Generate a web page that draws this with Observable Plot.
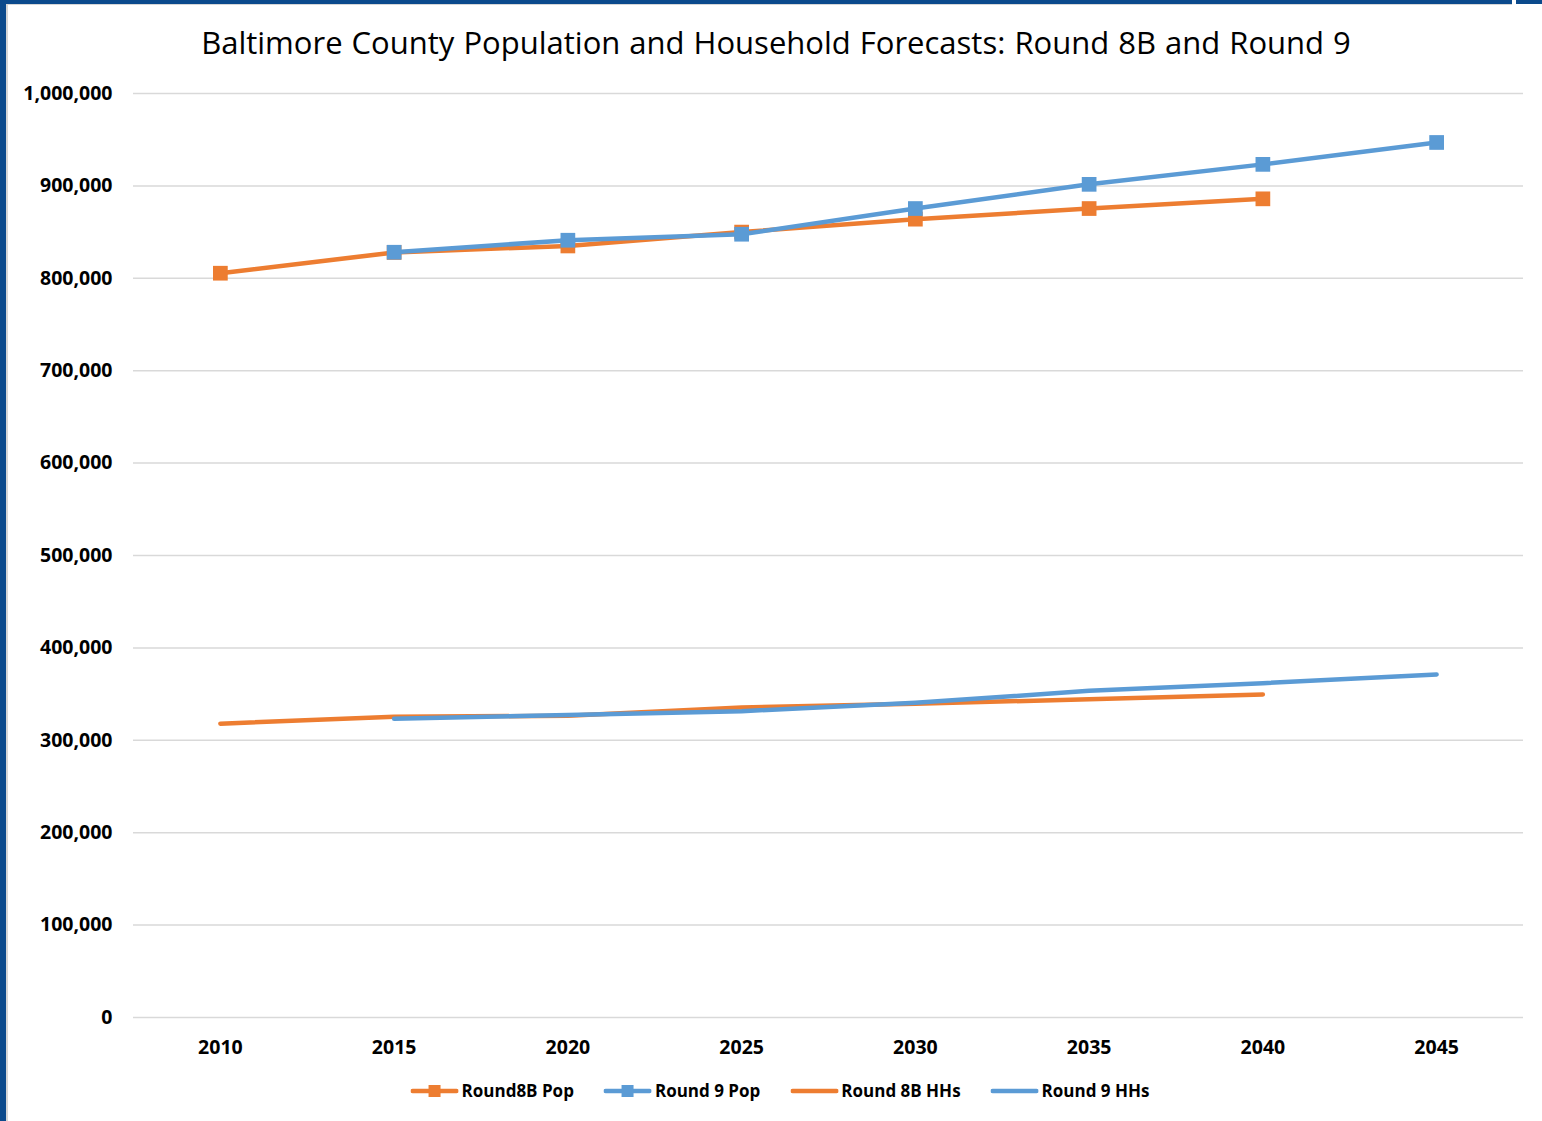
<!DOCTYPE html>
<html><head><meta charset="utf-8">
<script src="https://cdn.jsdelivr.net/npm/d3@7"></script>
<script src="https://cdn.jsdelivr.net/npm/@observablehq/plot@0.6"></script>
<style>
body{margin:0;background:#fff;}
#wrap{position:relative;width:1542px;height:1121px;overflow:hidden;font-family:"Open Sans",sans-serif;background:#fff;}
#title{position:absolute;left:0;top:0;width:1542px;height:80px;}
#title span{position:absolute;left:776px;top:22px;transform:translateX(-50%);white-space:nowrap;font-size:31px;word-spacing:1px;color:#000;line-height:40px;}
#chart{position:absolute;left:0;top:80px;}
#legend{position:absolute;left:0;top:1078px;width:1542px;height:28px;}
#legend .items{position:absolute;left:780px;transform:translateX(-50%);display:flex;gap:30px;align-items:center;white-space:nowrap;}
#legend .item{display:flex;align-items:center;gap:3px;font-weight:bold;font-size:17px;color:#000;line-height:26px;}
.bt{position:absolute;left:0;top:0;width:1512px;height:3.5px;background:#0b4a8c;}
.bt2{position:absolute;left:1516px;top:0;width:26px;height:4px;background:#0b4a8c;}
.bg{position:absolute;left:6px;top:3.5px;width:1506px;height:1.5px;background:#d6d6d6;}
.bl{position:absolute;left:0;top:0;width:6px;height:1121px;background:#0b4a8c;}
.bl2{position:absolute;left:6px;top:4px;width:1.5px;height:1117px;background:#d6d6d6;}
</style>
</head><body>
<div id="wrap">
  <div id="title"><span></span></div>
  <div id="chart"></div>
  <div id="legend"><div class="items"></div></div>
  <div class="bt"></div><div class="bt2"></div><div class="bg"></div><div class="bl"></div><div class="bl2"></div>
</div>
<script>
const titleText = "Baltimore County Population and Household Forecasts: Round 8B and Round 9";
const years = [2010, 2015, 2020, 2025, 2030, 2035, 2040, 2045];
const seriesNames = ["Round8B Pop", "Round 9 Pop", "Round 8B HHs", "Round 9 HHs"];
const seriesColors = ["#ED7D31", "#5B9BD5", "#ED7D31", "#5B9BD5"];
const seriesMarkers = [true, true, false, false];
const round8BPop = [805500, 828000, 835000, 850000, 864000, 875500, 886000, null];
const round9Pop  = [null, 828200, 841200, 847700, 875500, 901700, 923300, 947000];
const round8BHHs = [318000, 325500, 326500, 335500, 339500, 344500, 349500, null];
const round9HHs  = [null, 323300, 327500, 331500, 340600, 353500, 361800, 371200];
const yTicks = [0, 100000, 200000, 300000, 400000, 500000, 600000, 700000, 800000, 900000, 1000000];

const seriesValues = [round8BPop, round9Pop, round8BHHs, round9HHs];
const tables = seriesValues.map((vals, i) =>
  years.map((y, j) => ({series: seriesNames[i], year: y, value: vals[j]})).filter(d => d.value != null));

document.querySelector("#title span").textContent = titleText;

const marks = [
  Plot.gridY(yTicks, {stroke: "#d9d9d9", strokeWidth: 1.5, strokeOpacity: 1}),
  Plot.axisY(yTicks, {tickSize: 0, tickPadding: 21, tickFormat: d3.format(","), fontSize: 19.5, fontWeight: "bold", label: null}),
  Plot.axisX({tickSize: 0, tickPadding: 23, fontSize: 19.5, fontWeight: "bold", label: null, tickFormat: d => String(d)})
];
tables.forEach((t, i) => {
  marks.push(Plot.line(t, {x: "year", y: "value", stroke: seriesColors[i], strokeWidth: 4.5,
    strokeLinecap: seriesMarkers[i] ? "butt" : "round", strokeLinejoin: "round"}));
  if (seriesMarkers[i]) {
    marks.push(Plot.dot(t, {x: "year", y: "value", symbol: "square", r: 8.3, fill: seriesColors[i], stroke: "none"}));
  }
});

const chart = Plot.plot({
  width: 1542,
  height: 990,
  marginTop: 13,
  marginBottom: 53,
  marginLeft: 133,
  marginRight: 19,
  style: {fontFamily: '"Open Sans", sans-serif', color: "#000", background: "transparent"},
  x: {type: "point", domain: years, padding: 0.5, round: false},
  y: {domain: [0, 1000000]},
  marks
});
document.getElementById("chart").appendChild(chart);

const items = document.querySelector("#legend .items");
seriesNames.forEach((name, i) => {
  const it = document.createElement("div");
  it.className = "item";
  const sw = `<svg width="48" height="14" viewBox="0 0 48 14"><line x1="2" y1="7" x2="46" y2="7" stroke="${seriesColors[i]}" stroke-width="4.5" stroke-linecap="round"/>` +
    (seriesMarkers[i] ? `<rect x="18" y="1" width="12" height="12" fill="${seriesColors[i]}"/>` : "") + `</svg>`;
  it.innerHTML = sw + `<span>${name}</span>`;
  items.appendChild(it);
});
</script>
</body></html>
